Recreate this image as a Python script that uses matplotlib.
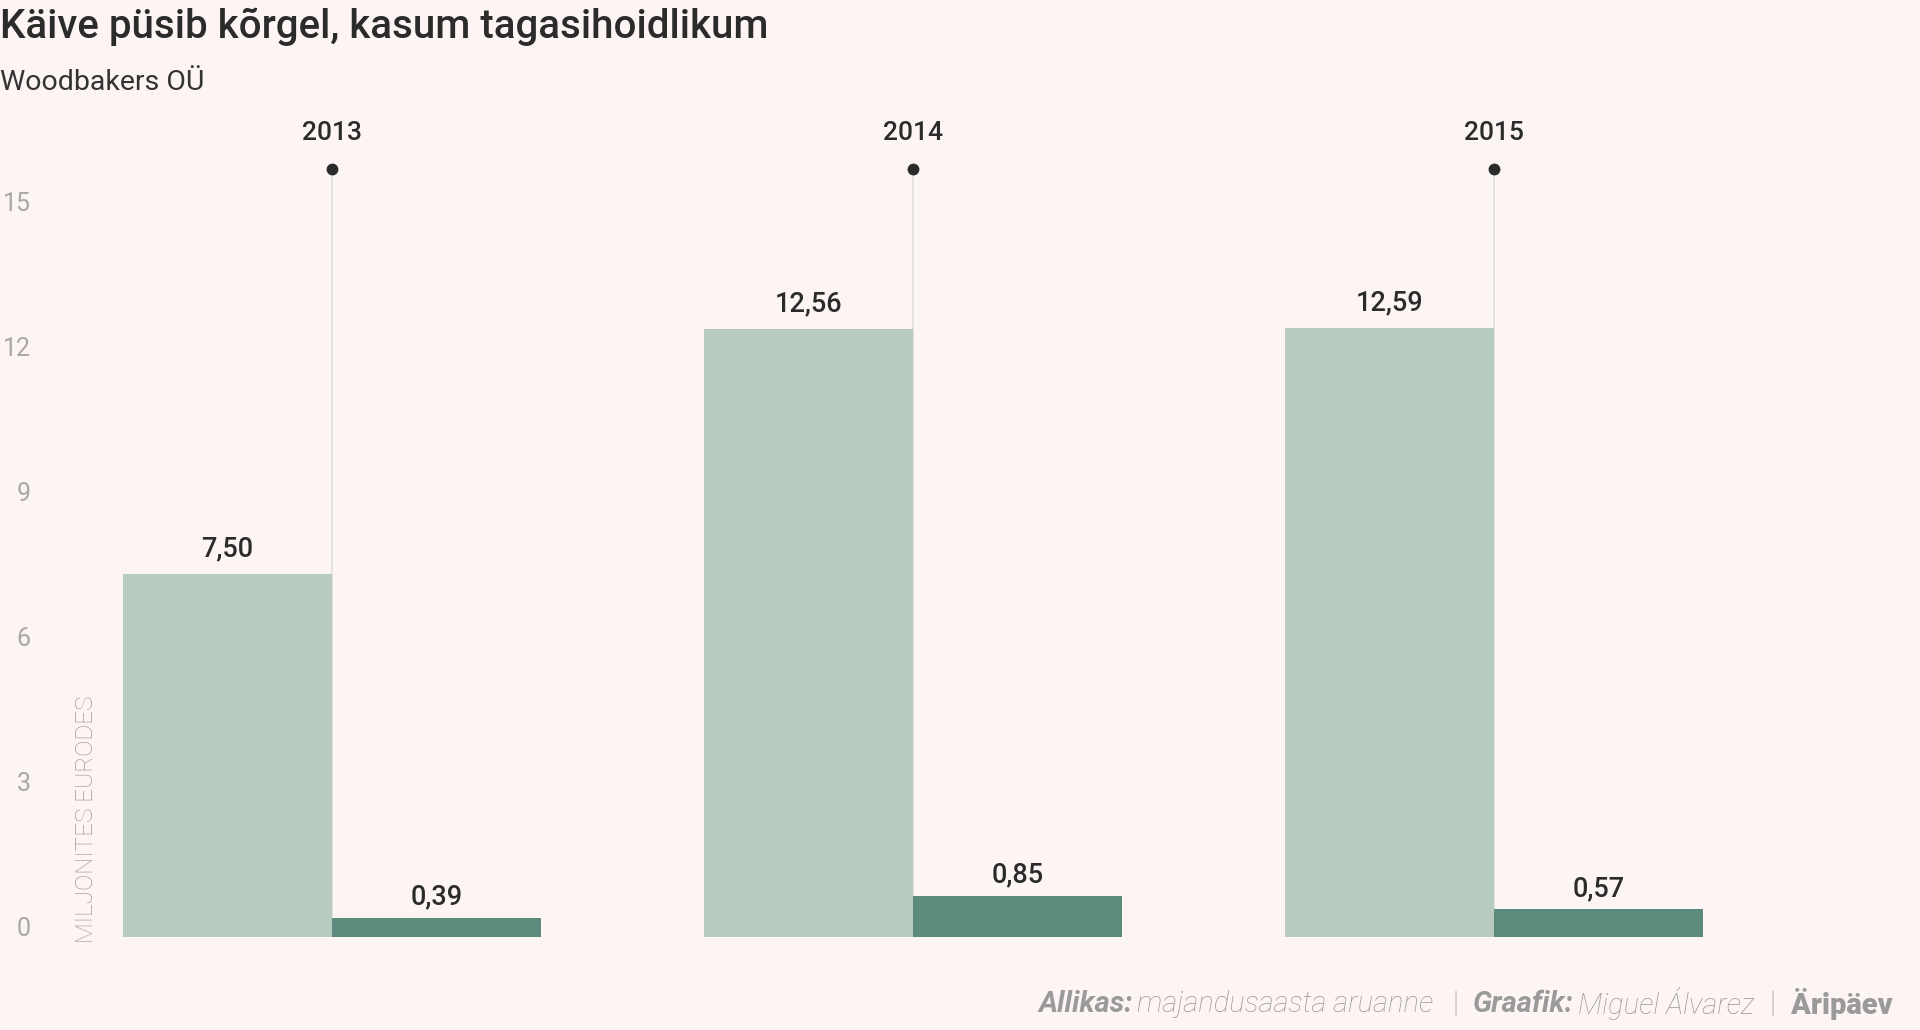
import numpy as np
import matplotlib
matplotlib.use("Agg")
import matplotlib.pyplot as plt
import matplotlib.transforms as mtransforms

plt.rcParams['font.family'] = ['Roboto', 'DejaVu Sans']

years = ["2013", "2014", "2015"]
revenue = [7.50, 12.56, 12.59]
profit = [0.39, 0.85, 0.57]
yticks = [0, 3, 6, 9, 12, 15]

title = "Käive püsib kõrgel, kasum tagasihoidlikum"
subtitle = "Woodbakers OÜ"
ylabel = "MILJONITES EURODES"

BG = "#fdf5f3"
C1 = "#b7cbc1"
C2 = "#5c8a7c"
DARK = "#2b2b2b"
GREY = "#a8a8a8"

W, H = 1920, 1030
fig = plt.figure(figsize=(W / 100, H / 100), dpi=100)
fig.patch.set_facecolor(BG)

base_px = 937
ppu = 48.4
left_px, right_px = 123, 1703
ax = fig.add_axes([left_px / W, (H - base_px) / H, (right_px - left_px) / W, 15 * ppu / H])
ax.set_facecolor(BG)
ax.patch.set_alpha(0)
bw = 0.36
ax.set_xlim(-bw, 2 + bw)
ax.set_ylim(0, 15)

x = np.arange(len(years))
ax.bar(x - bw / 2, revenue, width=bw, color=C1, zorder=2)
ax.bar(x + bw / 2, profit, width=bw, color=C2, zorder=2)

dot_y = (base_px - 169) / ppu
year_y = (base_px - 133) / ppu
ax.vlines(x, 0, dot_y, color="#dedede", lw=1.2, zorder=1, clip_on=False)
ax.plot(x, [dot_y] * len(x), 'o', ms=7.5, color=DARK, clip_on=False, zorder=3)
for xi, yr in zip(x, years):
    ax.text(xi, year_y, yr, ha='center', va='center', fontsize=19, fontweight='medium',
            color=DARK, clip_on=False)

def fmt(v):
    return f"{v:.2f}".replace('.', ',')

for xi, v in zip(x - bw / 2, revenue):
    ax.annotate(fmt(v), (xi, v), xytext=(0, 18), textcoords='offset points',
                ha='center', va='center', fontsize=19.5, fontweight='medium', color=DARK)
for xi, v in zip(x + bw / 2, profit):
    ax.annotate(fmt(v), (xi, v), xytext=(0, 15), textcoords='offset points',
                ha='center', va='center', fontsize=19.5, fontweight='medium', color=DARK)

for s in ax.spines.values():
    s.set_visible(False)
ax.set_xticks([])
ax.set_yticks(yticks)
ax.set_yticklabels([str(t) for t in yticks])
ax.tick_params(axis='y', length=0, pad=(left_px - 31) * 0.72, labelsize=18, labelcolor=GREY)
off = mtransforms.ScaledTranslation(0, 10 / 100, fig.dpi_scale_trans)
for lab in ax.get_yticklabels():
    lab.set_fontweight('normal')
    lab.set_transform(lab.get_transform() + off)

fig.text(86 / W, (H - 943) / H, ylabel, rotation=90, ha='center', va='bottom',
         fontsize=17.5, fontweight='light', color="#9c9c9c")

fig.text(0, 1 - 27 / H, title, ha='left', va='center', fontsize=29, fontweight='medium', color=DARK)
fig.text(0, 1 - 82 / H, subtitle, ha='left', va='center', fontsize=20.5, fontweight='normal', color="#333333")

footer = [
    (1038, "Allikas:", 'bold', 'italic'),
    (1137, "majandusaasta aruanne", 'light', 'italic'),
    (1452, "|", 'light', 'normal'),
    (1473, "Graafik:", 'bold', 'italic'),
    (1578, "Miguel Álvarez", 'light', 'italic'),
    (1769, "|", 'light', 'normal'),
    (1791, "Äripäev", 'heavy', 'normal'),
]
for px, txt, wgt, sty in footer:
    fig.text(px / W, 1 - 1004 / H, txt, ha='left', va='center', fontsize=21,
             fontweight=wgt, fontstyle=sty, color="#9a9a9a")

fig.savefig("out.png", dpi=100, facecolor=BG)
